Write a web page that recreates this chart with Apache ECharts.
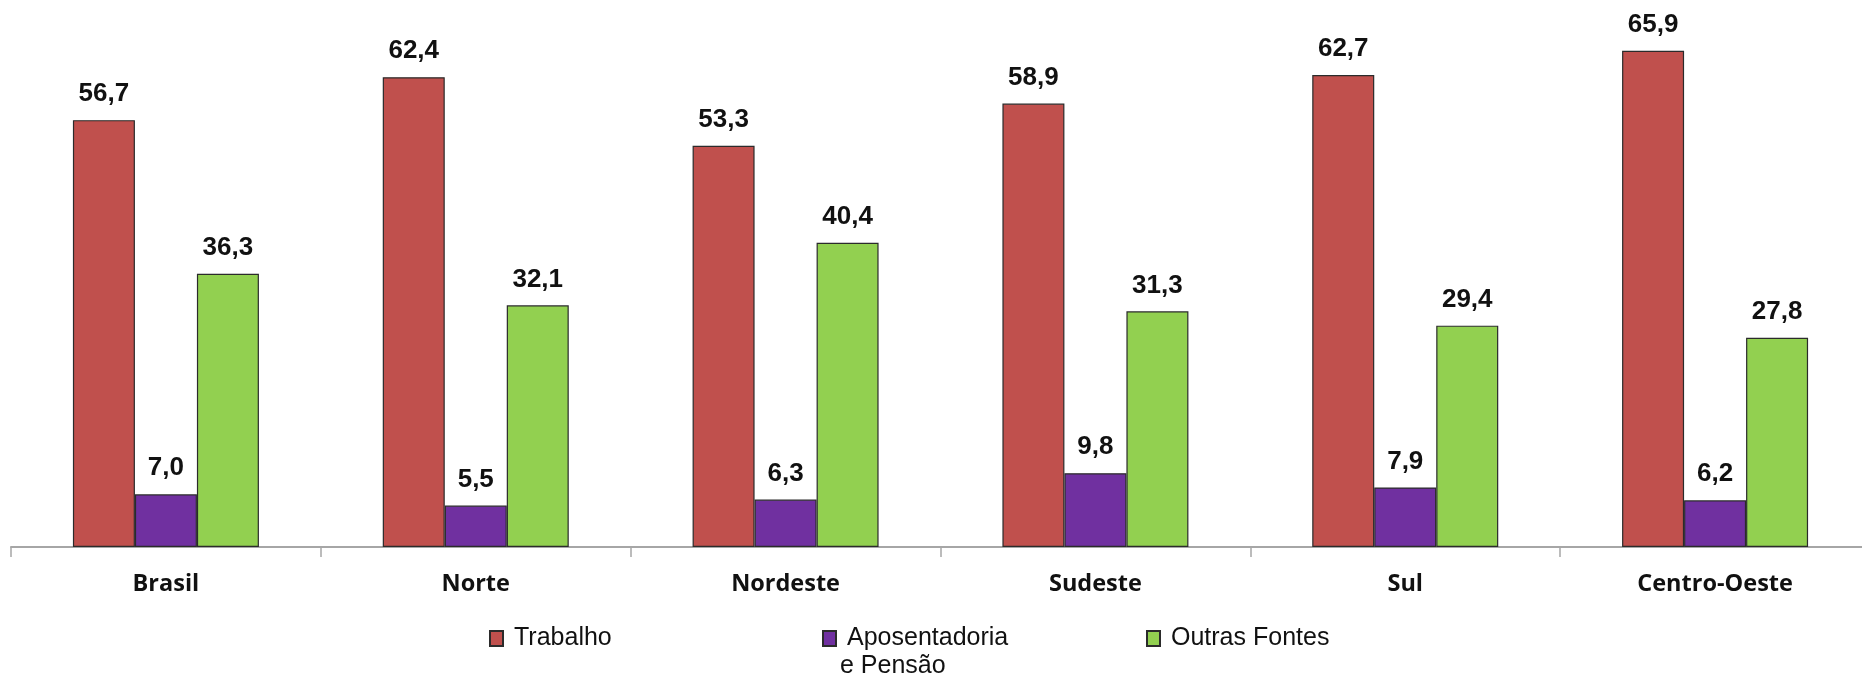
<!DOCTYPE html>
<html>
<head>
<meta charset="utf-8">
<script src="https://cdn.jsdelivr.net/npm/echarts@6/dist/echarts.min.js"></script>
<style>
  html, body { margin: 0; padding: 0; background: #fff; overflow: hidden; }
  /* um pouco mais largo que a janela: a última categoria passa da borda */
  #chart { width: 1870px; height: 679px; }
</style>
</head>
<body>
<div id="chart"></div>
<script>
    const regioes = ["Brasil", "Norte", "Nordeste", "Sudeste", "Sul", "Centro-Oeste"];
    const trabalho = [56.7, 62.4, 53.3, 58.9, 62.7, 65.9];
    const aposentadoria = [7.0, 5.5, 6.3, 9.8, 7.9, 6.2];
    const outrasFontes = [36.3, 32.1, 40.4, 31.3, 29.4, 27.8];

    let chart = echarts.init(document.getElementById("chart"));

    // rótulo com vírgula decimal
    function rotulo(p) {
        return p.value.toFixed(1).replace(".", ",");
    }

    function serie(nome, dados, cor) {
        return {
            name: nome,
            type: "bar",
            data: dados,
            barWidth: 62,
            barGap: "0%",
            itemStyle: {
                color: cor,
                borderColor: "#2b2b2b",
                borderWidth: 1.2,
            },
            label: {
                show: true,
                position: "top",
                distance: 13,
                formatter: rotulo,
                fontFamily: "Liberation Sans, Arial, sans-serif",
                fontWeight: "bold",
                fontSize: 26,
                color: "#111",
            },
        };
    }

    let legendaTexto = {
        fontFamily: "Liberation Sans, Arial, sans-serif",
        fontSize: 25,
        color: "#111",
        padding: [0, 0, 0, 6],
    };

    function legenda(nome, x, fmt) {
        return {
            data: [nome],
            left: x, top: 626, padding: 0,
            icon: "rect",
            itemWidth: 13, itemHeight: 15,
            textStyle: legendaTexto,
            formatter: fmt,
        };
    }

    let option = {
        animation: false,
        grid: {
            left: 11,
            right: 0,
            top: 20,
            bottom: 132,
        },
        legend: [
            legenda("Trabalho", 489),
            // segunda linha da legenda vai como texto separado
            legenda("Aposentadoria e Pensão", 822, function () { return "Aposentadoria"; }),
            legenda("Outras Fontes", 1146),
        ],
        graphic: [
            {
                type: "text",
                left: 840,
                top: 654,
                style: {
                    text: "e Pensão",
                    font: "25px Liberation Sans, Arial, sans-serif",
                    fill: "#111",
                },
            },
        ],
        xAxis: {
            type: "category",
            data: regioes,
            axisLine: {
                lineStyle: { color: "#a6a6a6", width: 2 },
            },
            axisTick: {
                show: true,
                length: 10,
                lineStyle: { color: "#a6a6a6", width: 1.5 },
            },
            axisLabel: {
                margin: 25,
                fontFamily: "Open Sans, DejaVu Sans, sans-serif",
                fontWeight: "bold",
                fontSize: 23.5,
                color: "#111",
            },
        },
        yAxis: {
            type: "value",
            show: false,
            min: 0,
            max: 70,
            splitLine: { show: false },
        },
        series: [
            serie("Trabalho", trabalho, "#c0504d"),
            serie("Aposentadoria e Pensão", aposentadoria, "#7030a0"),
            serie("Outras Fontes", outrasFontes, "#92d050"),
        ],
    };
    chart.setOption(option);
</script>
</body>
</html>
